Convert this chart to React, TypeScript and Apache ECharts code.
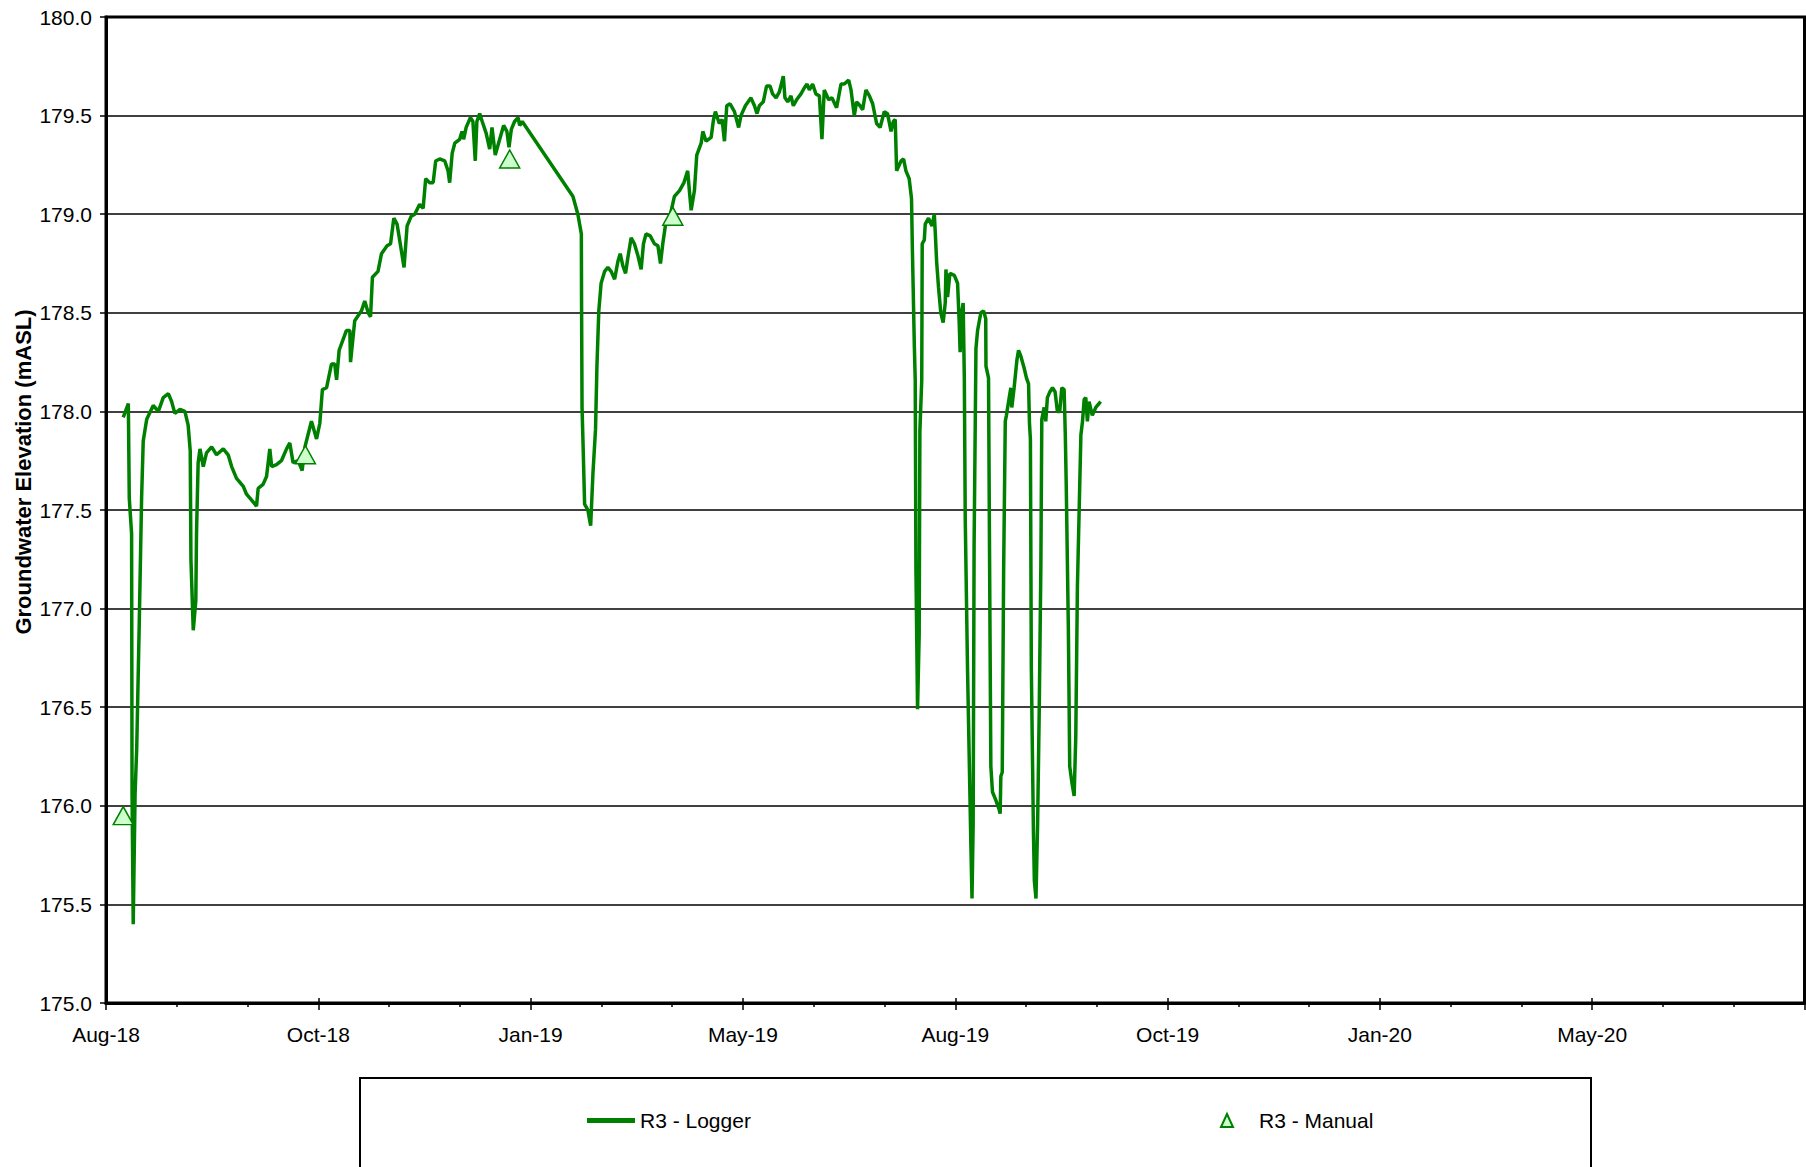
import React, { useEffect, useRef } from 'react';
import * as echarts from 'echarts';

// x values are days since 2018-08-01 (axis origin); the axis uses Excel-like 91.25-day major units
const X_MAJOR = 91.25;
const X_MAX = 730;
const xTickLabels = ['Aug-18', 'Oct-18', 'Jan-19', 'May-19', 'Aug-19', 'Oct-19', 'Jan-20', 'May-20'];

const Y_MIN = 175;
const Y_MAX = 180;
const Y_STEP = 0.5;

const SERIES_LOGGER = 'R3 - Logger';
const SERIES_MANUAL = 'R3 - Manual';
const Y_TITLE = 'Groundwater Elevation (mASL)';

// R3 logger record [day, elevation mASL]
const loggerAugOct2018: [number, number][] = [
  [7.4, 177.97], [9.6, 178.04], [10.0, 177.56], [11.0, 177.38], [11.2, 176.06], [11.7, 175.40], [12.5, 176.06],
  [13.2, 176.29], [14.3, 176.93], [15.3, 177.56], [16.0, 177.85], [17.5, 177.96], [20.3, 178.03], [22.5, 178.00],
  [24.6, 178.07], [26.8, 178.09], [28.2, 178.05], [29.6, 177.99], [31.8, 178.01], [33.9, 178.00], [35.3, 177.93],
  [36.2, 177.80], [36.5, 177.25], [37.5, 176.89], [38.6, 177.04], [38.9, 177.38], [39.6, 177.74], [40.4, 177.81],
  [41.8, 177.72], [43.2, 177.79], [45.4, 177.82], [47.5, 177.78], [50.4, 177.81], [52.5, 177.78], [54.0, 177.72],
  [56.1, 177.66], [59.0, 177.62], [60.4, 177.58], [63.3, 177.54], [64.7, 177.52], [65.4, 177.61], [67.5, 177.63],
  [69.0, 177.67], [70.4, 177.81], [71.2, 177.72], [73.3, 177.73], [75.4, 177.75], [77.6, 177.81], [79.0, 177.84],
  [80.4, 177.74], [82.6, 177.75], [84.3, 177.70], [85.5, 177.82], [88.3, 177.95], [90.5, 177.86],
];

const loggerNovDec2018: [number, number][] = [
  [91.9, 177.94], [93.0, 178.11], [94.8, 178.12], [96.9, 178.24], [98.3, 178.24], [99.1, 178.16], [100.2, 178.31],
  [103.3, 178.41], [104.8, 178.41], [105.1, 178.25], [106.9, 178.46], [109.8, 178.51], [111.2, 178.56], [112.7, 178.50],
  [113.7, 178.48], [114.5, 178.68], [116.9, 178.71], [118.4, 178.80], [120.8, 178.84], [122.3, 178.85], [123.7, 178.98],
  [125.1, 178.95], [128.1, 178.73], [129.4, 178.94], [131.2, 178.99], [132.7, 179.00], [134.8, 179.05], [136.3, 179.03],
  [137.4, 179.18], [139.1, 179.16], [140.6, 179.16], [141.7, 179.27], [143.4, 179.28], [145.6, 179.27], [147.0, 179.22],
  [147.7, 179.16], [148.8, 179.31], [149.9, 179.36], [152.0, 179.38], [153.0, 179.42], [153.7, 179.38], [154.8, 179.44],
  [156.6, 179.49], [157.7, 179.47], [158.7, 179.27], [159.4, 179.47], [160.6, 179.51], [161.7, 179.47], [163.4, 179.41],
  [164.9, 179.33], [165.9, 179.44], [167.3, 179.30], [169.2, 179.38], [170.9, 179.45], [172.3, 179.42], [173.2, 179.34],
  [174.2, 179.43], [175.6, 179.47], [177.1, 179.49], [177.8, 179.45], [178.9, 179.47],
];

const loggerFebApr2019: [number, number][] = [
  [200.7, 179.09], [202.8, 179.00], [204.3, 178.90], [204.4, 178.53], [204.6, 178.02], [205.0, 177.85], [205.7, 177.53],
  [207.1, 177.50], [208.3, 177.42], [209.3, 177.69], [210.4, 177.91], [211.0, 178.23], [211.8, 178.51], [212.8, 178.65],
  [214.3, 178.71], [215.7, 178.73], [217.1, 178.71], [218.6, 178.67], [220.0, 178.76], [221.0, 178.80], [222.1, 178.74],
  [223.3, 178.70], [224.3, 178.78], [225.7, 178.88], [227.1, 178.85], [228.6, 178.79], [230.0, 178.72], [231.0, 178.85],
  [232.1, 178.90], [233.9, 178.89], [235.7, 178.85], [237.2, 178.84], [238.3, 178.75], [239.3, 178.85], [240.4, 178.94],
  [242.2, 178.98], [244.3, 179.09], [246.5, 179.12], [248.4, 179.16], [250.0, 179.22], [250.8, 179.11], [251.5, 179.02],
  [252.9, 179.12], [253.9, 179.30], [255.8, 179.36], [256.5, 179.42], [257.9, 179.37], [260.1, 179.39], [261.1, 179.48],
  [261.9, 179.52], [263.6, 179.46], [264.8, 179.48], [265.8, 179.37], [266.8, 179.55], [268.2, 179.56], [270.1, 179.52],
  [271.9, 179.44],
];

const loggerMayJul2019: [number, number][] = [
  [272.9, 179.50], [274.8, 179.55], [277.2, 179.59], [278.7, 179.55], [279.8, 179.51], [280.8, 179.55], [282.5, 179.57],
  [283.9, 179.65], [285.4, 179.65], [286.5, 179.61], [288.0, 179.59], [289.4, 179.62], [291.1, 179.70], [291.8, 179.59],
  [293.0, 179.57], [294.4, 179.60], [295.4, 179.55], [296.8, 179.58], [298.7, 179.61], [300.1, 179.64], [301.3, 179.66],
  [302.3, 179.63], [303.7, 179.66], [305.1, 179.61], [306.6, 179.60], [307.7, 179.38], [308.7, 179.63], [310.6, 179.58],
  [312.0, 179.59], [314.0, 179.54], [315.9, 179.66], [317.3, 179.66], [319.2, 179.68], [320.2, 179.63], [321.6, 179.50],
  [322.6, 179.57], [324.1, 179.55], [325.2, 179.53], [326.6, 179.63], [328.1, 179.60], [329.5, 179.56], [331.2, 179.46],
  [332.7, 179.44], [334.5, 179.52], [335.9, 179.51], [337.4, 179.42], [338.4, 179.47], [339.2, 179.48], [339.8, 179.22],
  [341.7, 179.27], [342.8, 179.28], [343.8, 179.22], [345.2, 179.18], [346.2, 179.08],
];

const loggerJulOct2019: [number, number][] = [
  [346.6, 178.81], [347.4, 178.34], [347.8, 178.16], [348.1, 177.20], [348.8, 176.49], [349.5, 176.87], [349.8, 177.90],
  [350.6, 178.16], [350.8, 178.85], [351.7, 178.87], [352.1, 178.95], [353.5, 178.98], [355.0, 178.94], [356.0, 179.00],
  [356.4, 178.91], [357.0, 178.76], [357.8, 178.63], [358.8, 178.50], [359.8, 178.45], [360.7, 178.55], [361.0, 178.72],
  [361.7, 178.58], [362.7, 178.70], [364.6, 178.69], [366.0, 178.65], [366.7, 178.45], [367.1, 178.30], [367.9, 178.51],
  [368.4, 178.55], [368.9, 178.17], [369.3, 177.45], [370.3, 176.68], [371.7, 175.81], [372.2, 175.53], [372.7, 175.91],
  [373.1, 177.32], [373.9, 178.32], [374.6, 178.41], [376.0, 178.50], [377.2, 178.51], [378.1, 178.47], [378.2, 178.23],
  [379.3, 178.17], [379.9, 176.95], [380.3, 176.20], [381.0, 176.07], [382.4, 176.03], [383.9, 175.98], [384.3, 175.96],
  [384.6, 176.15], [385.2, 176.17], [385.8, 177.20], [386.5, 177.95], [387.0, 177.98], [388.2, 178.07], [388.9, 178.12],
  [389.3, 178.02], [390.3, 178.12], [391.5, 178.26], [392.2, 178.31], [393.2, 178.28], [394.6, 178.22], [395.6, 178.17],
  [396.5, 178.14], [396.9, 177.94], [397.3, 177.86], [397.7, 176.70], [398.6, 175.87], [399.0, 175.62], [399.7, 175.53],
  [400.4, 175.91], [401.1, 176.49], [401.8, 177.22], [402.2, 177.96], [403.2, 178.02], [403.9, 177.95], [404.6, 178.07],
  [405.7, 178.10], [406.8, 178.12], [407.9, 178.10], [408.9, 178.00], [409.9, 178.00], [410.8, 178.12], [411.8, 178.11],
  [412.3, 177.88], [412.7, 177.63], [413.6, 176.91], [414.2, 176.20], [415.1, 176.12], [416.1, 176.05], [416.8, 176.35],
  [417.5, 177.11], [419.0, 177.88], [419.7, 177.95], [420.4, 178.06], [421.1, 178.07], [421.8, 177.95], [422.5, 178.05],
  [423.9, 177.98], [425.4, 178.02], [427.5, 178.05],
];

// R3 manual readings [day, elevation mASL]
const manualReadings: [number, number][] = [
  [7.4, 175.95], [85.7, 177.78], [173.5, 179.28], [243.6, 178.99],
];

const GREEN = '#008000';
const LIGHT_GREEN = '#ccffcc';
const FONT = "'Liberation Sans', Arial, Helvetica, sans-serif";

export default function App() {
  const ref = useRef<HTMLDivElement>(null);

  useEffect(() => {
    document.body.style.margin = '0';
    const chart = echarts.init(ref.current!, null, { renderer: 'svg' });

    const logger = [
      ...loggerAugOct2018,
      ...loggerNovDec2018,
      ...loggerFebApr2019,
      ...loggerMayJul2019,
      ...loggerJulOct2019,
    ];

    const xLabel = (v: number) => {
      const i = Math.round(v / X_MAJOR);
      return xTickLabels[i] ?? '';
    };

    const option: any = {
      animation: false,
      backgroundColor: '#ffffff',
      textStyle: { fontFamily: FONT },
      grid: {
        left: 106,
        right: 1.5,
        top: 17,
        bottom: 164,
        show: true,
        borderColor: '#000',
        borderWidth: 3,
        backgroundColor: '#fff',
        containLabel: false,
      },
      xAxis: [
        {
          type: 'value',
          min: 0,
          max: X_MAX,
          interval: X_MAJOR,
          axisLine: { show: true, onZero: false, lineStyle: { color: '#000', width: 3 } },
          axisTick: { show: true, length: 7, lineStyle: { color: '#000', width: 1.5 } },
          minorTick: { show: true, splitNumber: 3, length: 4, lineStyle: { color: '#000', width: 1.5 } },
          minorSplitLine: { show: false },
          splitLine: { show: false },
          axisLabel: {
            formatter: xLabel,
            fontSize: 21,
            color: '#000',
            fontFamily: FONT,
            margin: 21,
            showMaxLabel: false,
          },
        },
        {
          type: 'value',
          min: 0,
          max: X_MAX,
          interval: X_MAJOR,
          position: 'bottom',
          axisLine: { show: false },
          axisTick: { show: true, inside: true, length: 5, lineStyle: { color: '#000', width: 1.5 } },
          axisLabel: { show: false },
          splitLine: { show: false },
        },
      ],
      yAxis: {
        type: 'value',
        min: Y_MIN,
        max: Y_MAX,
        interval: Y_STEP,
        axisLine: { show: true, onZero: false, lineStyle: { color: '#000', width: 3 } },
        axisTick: { show: true, length: 6, lineStyle: { color: '#000', width: 1.5 } },
        axisLabel: {
          formatter: (v: number) => v.toFixed(1),
          fontSize: 21,
          color: '#000',
          fontFamily: FONT,
          margin: 14,
        },
        splitLine: { show: true, lineStyle: { color: '#000', width: 1.5 } },
      },
      legend: [
        {
          data: [{ name: SERIES_LOGGER, icon: 'rect' }],
          left: 587,
          top: 1110,
          padding: 0,
          itemWidth: 48,
          itemHeight: 5,
          itemGap: 0,
          selectedMode: false,
          textStyle: { fontSize: 21, color: '#000', fontFamily: FONT },
        },
        {
          data: [{ name: SERIES_MANUAL, icon: 'triangle' }],
          left: 1220,
          top: 1110,
          padding: 0,
          itemWidth: 12,
          itemHeight: 13,
          itemGap: 0,
          selectedMode: false,
          textStyle: { fontSize: 21, color: '#000', fontFamily: FONT, padding: [0, 0, 0, 21] },
        },
      ],
      graphic: [
        {
          type: 'rect',
          shape: { x: 360, y: 1078, width: 1231, height: 140 },
          style: { fill: 'none', stroke: '#000', lineWidth: 2 },
          silent: true,
        },
        {
          type: 'text',
          x: 23,
          y: 472,
          rotation: Math.PI / 2,
          style: {
            text: Y_TITLE,
            font: `bold 22px ${FONT}`,
            fill: '#000',
            align: 'center',
            verticalAlign: 'middle',
            textAlign: 'center',
            textVerticalAlign: 'middle',
          },
          silent: true,
        },
      ],
      series: [
        {
          name: SERIES_LOGGER,
          type: 'line',
          xAxisIndex: 0,
          data: logger,
          showSymbol: false,
          symbol: 'none',
          color: GREEN,
          lineStyle: { color: GREEN, width: 3.5 },
          itemStyle: { color: GREEN },
          z: 2,
        },
        {
          name: SERIES_MANUAL,
          type: 'scatter',
          xAxisIndex: 0,
          data: manualReadings,
          symbol: 'triangle',
          symbolSize: [20, 18],
          itemStyle: { color: LIGHT_GREEN, borderColor: GREEN, borderWidth: 1.5, opacity: 1 },
          z: 3,
        },
      ],
    };

    chart.setOption(option);
    return () => chart.dispose();
  }, []);

  return <div ref={ref} style={{ width: 1806, height: 1167 }} />;
}
